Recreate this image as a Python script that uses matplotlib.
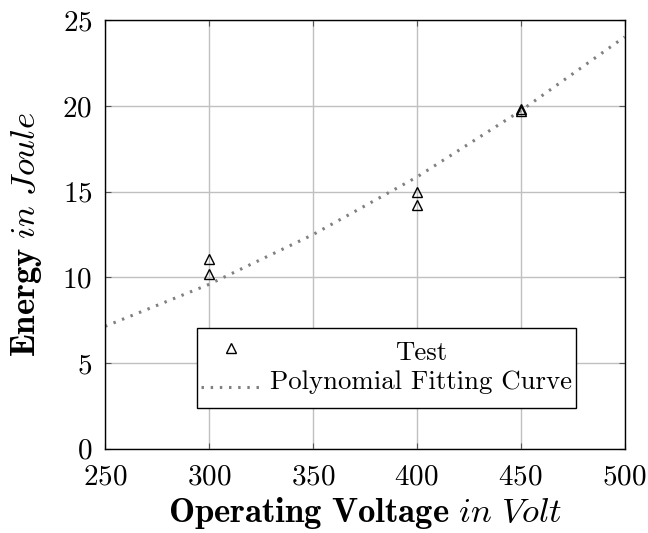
"""
energy vs operating voltage with polynomial fitting curve
"""
import matplotlib
matplotlib.use('Agg')
import matplotlib.pyplot as plt
from matplotlib.lines import Line2D
from matplotlib.offsetbox import (AnchoredOffsetbox, DrawingArea, HPacker,
                                  TextArea, VPacker)

plt.rcParams['font.family'] = 'cmr10'
plt.rcParams['mathtext.fontset'] = 'cm'
plt.rcParams['axes.formatter.use_mathtext'] = True
plt.rcParams['font.size'] = 20

# measured test points
TEST_VOLT = [300, 300, 400, 400, 450, 450]
TEST_ENERGY = [11.1, 10.2, 15.0, 14.2, 19.8, 19.7]

FIT_VOLT = [250, 300, 350, 400, 450, 500]
FIT_ENERGY = [7.14, 9.59, 12.49, 15.85, 19.72, 24.03]

X_TICKS = [250, 300, 350, 400, 450, 500]
Y_TICKS = [0, 5, 10, 15, 20, 25]

FIT_COLOR = '#808080'
GRID_COLOR = '#c0c0c0'

fig = plt.figure(figsize=(6.48, 5.33), dpi=100)
ax = fig.add_axes([0.162, 0.158, 0.802, 0.804])

ax.plot(FIT_VOLT, FIT_ENERGY, color=FIT_COLOR, linestyle=(0, (0.8, 2.2)),
        linewidth=2.2, zorder=2)
ax.plot(TEST_VOLT, TEST_ENERGY, linestyle='none', marker='^', markersize=7.5,
        markerfacecolor='none', markeredgecolor='black', markeredgewidth=1,
        zorder=3)

ax.set_xlim(250, 500)
ax.set_ylim(0, 25)
ax.set_xticks(X_TICKS)
ax.set_yticks(Y_TICKS)
ax.grid(True, color=GRID_COLOR, linewidth=1)
ax.set_axisbelow(True)
ax.tick_params(direction='in', length=4, width=0.8, color='#555555',
               top=True, right=True, pad=9, labelsize=21)
ax.tick_params(axis='x', pad=11)
for side in ax.spines.values():
    side.set_linewidth(1)

ax.set_xlabel(r'$\mathbf{Operating\ Voltage}\ \mathit{in\ Volt}$',
              fontsize=25, labelpad=3)
ax.set_ylabel(r'$\mathbf{Energy}\ \mathit{in\ Joule}$', fontsize=25,
              labelpad=13)

# legend: handle column and centred text column, like pgfplots
HANDLE_W, ROW_H = 44, 24
mark_box = DrawingArea(HANDLE_W, ROW_H, 0, 0)
mark_box.add_artist(Line2D([HANDLE_W * 0.5], [ROW_H * 0.5], marker='^',
                           markersize=7.5, markerfacecolor='none',
                           markeredgecolor='black', markeredgewidth=1))
line_box = DrawingArea(HANDLE_W, ROW_H, 0, 0)
line_box.add_artist(Line2D([0, HANDLE_W], [ROW_H * 0.5] * 2,
                           color=FIT_COLOR, linestyle=(0, (0.8, 2.2)),
                           linewidth=2.2))
handles = VPacker(children=[mark_box, line_box], align='center', pad=0,
                  sep=4)
labels = VPacker(children=[TextArea('Test', textprops=dict(fontsize=19.3)),
                           TextArea('Polynomial Fitting Curve',
                                    textprops=dict(fontsize=19.3))],
                 align='center', pad=0, sep=4)
body = HPacker(children=[handles, labels], align='center', pad=0, sep=6)
leg = AnchoredOffsetbox(loc='lower center', child=body, pad=0.15,
                        borderpad=0, frameon=True,
                        bbox_to_anchor=(0.5415, 0.095),
                        bbox_transform=ax.transAxes)
leg.patch.set_edgecolor('black')
leg.patch.set_linewidth(1)
leg.patch.set_boxstyle('square', pad=0)
leg.set_zorder(5)
ax.add_artist(leg)

fig.savefig('out.png', dpi=100)
